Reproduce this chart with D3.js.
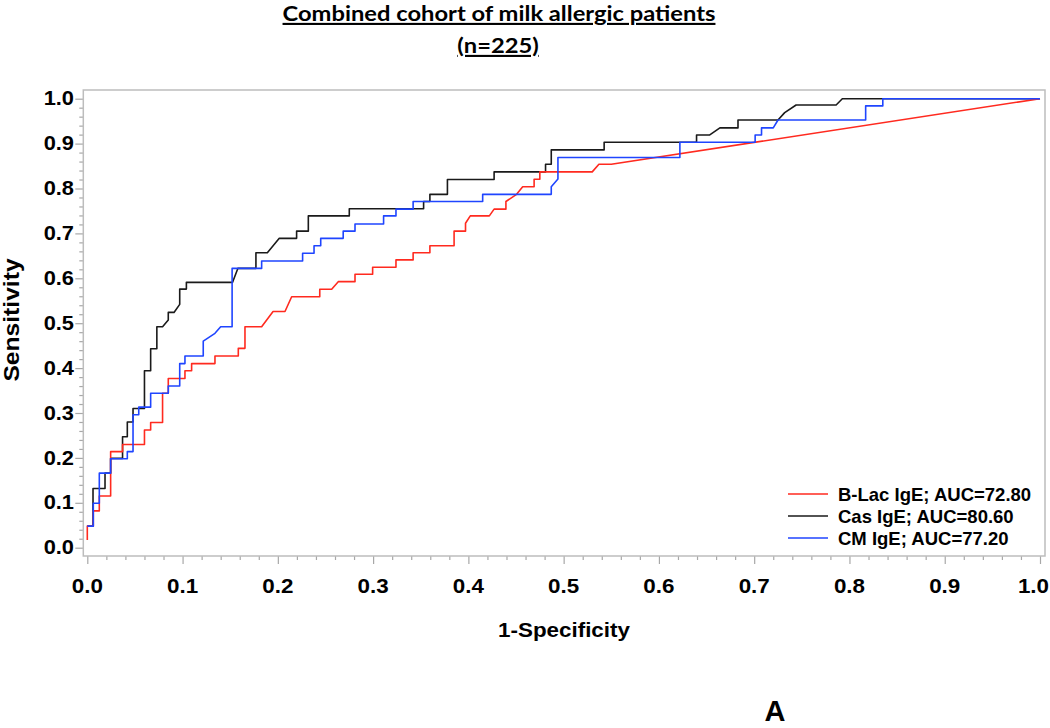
<!DOCTYPE html>
<meta charset="utf-8">
<style type="text/css">
    body { margin: 0; background: #fff; }
    svg text { font-family: "Liberation Sans", Arial, sans-serif; font-weight: bold; fill: #000; }
    .title { font-family: Lato, "Open Sans", sans-serif; text-decoration: underline; }
    .tick line { stroke: #a8a8a8; stroke-width: 1.2; }
</style>
<svg id="chart" width="1050" height="728"></svg>
<script src="https://cdn.jsdelivr.net/npm/d3@7/dist/d3.min.js" type="text/javascript"></script>
<script type="text/javascript">
    // ROC vertices: [1-specificity, sensitivity]
    var bLacPts = [[0,0.017],[0,0.048],[0.0063,0.048],[0.0063,0.082],[0.0126,0.082],[0.0126,0.115],[0.0245,0.115],
        [0.0245,0.214],[0.037,0.214],[0.037,0.23],[0.060,0.23],[0.060,0.262],[0.0665,0.262],[0.0665,0.279],
        [0.079,0.279],[0.079,0.344],[0.085,0.344],[0.085,0.377],[0.1025,0.377],[0.1025,0.394],[0.1095,0.394],
        [0.1095,0.41],[0.134,0.41],[0.134,0.427],[0.1585,0.427],[0.1585,0.444],[0.1655,0.444],[0.1655,0.492],
        [0.183,0.492],[0.195,0.526],[0.2075,0.526],[0.2145,0.559],[0.244,0.559],[0.244,0.5755],[0.2565,0.5755],
        [0.2634,0.5925],[0.281,0.5925],[0.281,0.609],[0.2995,0.609],[0.2995,0.6245],[0.324,0.6245],[0.324,0.641],
        [0.342,0.641],[0.342,0.657],[0.3596,0.657],[0.3596,0.6726],[0.385,0.6726],[0.385,0.705],[0.397,0.705],
        [0.397,0.7225],[0.402,0.739],[0.422,0.739],[0.427,0.754],[0.4394,0.754],[0.4394,0.771],[0.4506,0.787],
        [0.457,0.804],[0.469,0.804],[0.469,0.8205],[0.475,0.8205],[0.475,0.837],[0.530,0.837],[0.537,0.854],
        [0.55,0.854],[1,1]];

    var casPts = [[0,0.048],[0.006,0.048],[0.006,0.132],[0.0186,0.132],[0.0186,0.166],[0.0245,0.166],[0.0245,0.199],
        [0.037,0.199],[0.037,0.247],[0.042,0.247],[0.042,0.28],[0.048,0.28],[0.048,0.31],[0.060,0.31],[0.060,0.394],
        [0.0665,0.394],[0.0665,0.443],[0.073,0.443],[0.073,0.492],[0.079,0.492],[0.085,0.507],[0.085,0.524],
        [0.091,0.524],[0.097,0.542],[0.097,0.576],[0.104,0.576],[0.104,0.591],[0.1525,0.591],[0.158,0.622],
        [0.177,0.622],[0.177,0.657],[0.189,0.657],[0.2015,0.689],[0.2197,0.689],[0.2197,0.705],[0.232,0.705],
        [0.232,0.739],[0.275,0.739],[0.275,0.755],[0.353,0.755],[0.353,0.771],[0.3596,0.771],[0.3596,0.787],
        [0.378,0.787],[0.378,0.82],[0.427,0.82],[0.427,0.837],[0.481,0.837],[0.481,0.854],[0.487,0.854],
        [0.487,0.886],[0.5425,0.886],[0.5425,0.903],[0.6395,0.903],[0.6395,0.919],[0.653,0.919],[0.664,0.935],
        [0.683,0.935],[0.683,0.9525],[0.725,0.9525],[0.732,0.969],[0.744,0.986],[0.786,0.986],[0.7925,1.0],[1,1]];

    var cmPts = [[0,0.048],[0.0063,0.048],[0.0063,0.099],[0.0126,0.099],[0.0126,0.166],[0.0245,0.166],[0.0245,0.198],
        [0.042,0.198],[0.042,0.214],[0.048,0.214],[0.048,0.296],[0.054,0.296],[0.054,0.313],[0.0665,0.313],
        [0.0665,0.344],[0.085,0.344],[0.085,0.36],[0.097,0.36],[0.097,0.41],[0.1025,0.41],[0.1025,0.427],
        [0.1217,0.427],[0.1217,0.46],[0.134,0.4775],[0.14,0.492],[0.152,0.492],[0.152,0.622],[0.183,0.622],
        [0.183,0.6385],[0.226,0.6385],[0.226,0.6557],[0.238,0.6557],[0.238,0.6726],[0.245,0.6726],[0.245,0.689],
        [0.2686,0.689],[0.2686,0.705],[0.281,0.705],[0.281,0.721],[0.311,0.721],[0.311,0.739],[0.324,0.739],
        [0.324,0.754],[0.342,0.754],[0.342,0.771],[0.415,0.771],[0.415,0.787],[0.487,0.787],[0.487,0.804],
        [0.494,0.821],[0.494,0.869],[0.622,0.869],[0.622,0.903],[0.701,0.903],[0.701,0.919],[0.7077,0.919],
        [0.7077,0.935],[0.72,0.935],[0.725,0.9525],[0.817,0.9525],[0.817,0.984],[0.835,0.984],[0.835,1.0],[1,1]];

    var seriesNames = ["B-Lac IgE; AUC=72.80", "Cas IgE; AUC=80.60", "CM IgE; AUC=77.20"];
    var seriesColors = ["#ff2a1f", "#1a1a1a", "#1f45ff"];
    var tickValues = [0, 0.1, 0.2, 0.3, 0.4, 0.5, 0.6, 0.7, 0.8, 0.9, 1.0];
    var tickLabels = ["0.0", "0.1", "0.2", "0.3", "0.4", "0.5", "0.6", "0.7", "0.8", "0.9", "1.0"];

    var svg = d3.select("#chart");
    var x = d3.scaleLinear().domain([0, 1]).range([87.3, 1040]);
    var y = d3.scaleLinear().domain([0, 1]).range([547.7, 98.7]);
    var frame = { left: 83.3, right: 1045, top: 90, bottom: 556 };
    var stretch = 1.12;

    var minorTicks = d3.range(0, 51).map(i => i / 50).filter(v => Math.round(v * 50) % 5 != 0);

    // axes: ticks only, labels drawn separately
    function drawAxis(axis, tx, ty) {
        var g = svg.append("g").attr("transform", "translate(" + tx + "," + ty + ")").call(axis);
        g.select(".domain").remove();
        g.selectAll("text").remove();
    }
    drawAxis(d3.axisBottom(x).tickValues(tickValues).tickSize(8).tickFormat(""), 0, frame.bottom);
    drawAxis(d3.axisBottom(x).tickValues(minorTicks).tickSize(4).tickFormat(""), 0, frame.bottom);
    drawAxis(d3.axisLeft(y).tickValues(tickValues).tickSize(8).tickFormat(""), frame.left, 0);
    drawAxis(d3.axisLeft(y).tickValues(minorTicks).tickSize(4).tickFormat(""), frame.left, 0);

    svg.append("rect")
        .attr("x", frame.left).attr("y", frame.top)
        .attr("width", frame.right - frame.left).attr("height", frame.bottom - frame.top)
        .attr("fill", "none").attr("stroke", "#bdbdbd").attr("stroke-width", 1.5);

    function stretchedText(str, px, py, size, anchor, rot, sx) {
        var t = "translate(" + px + "," + py + ")" + (rot ? " rotate(" + rot + ")" : "") + " scale(" + (sx || stretch) + ",1)";
        return svg.append("text").attr("transform", t)
            .attr("text-anchor", anchor).style("font-size", size + "px").text(str);
    }

    tickValues.forEach((v, i) => {
        // last label sits on the window edge, keep it inside
        if (i == tickValues.length - 1) stretchedText(tickLabels[i], 1049, 593, 20, "end");
        else stretchedText(tickLabels[i], x(v), 593, 20, "middle");
        stretchedText(tickLabels[i], 74, y(v) + 6.6, 19.5, "end");
    });

    stretchedText("1-Specificity", 564, 637, 20, "middle");
    stretchedText("Sensitivity", 18.5, 320, 22, "middle", -90);

    // curves
    var line = d3.line().x(d => x(d[0])).y(d => y(d[1]));
    var curves = [casPts, bLacPts, cmPts];
    var curveColors = [seriesColors[1], seriesColors[0], seriesColors[2]];
    curves.forEach((pts, i) => {
        svg.append("path").datum(pts)
            .attr("d", line)
            .attr("fill", "none")
            .attr("stroke", curveColors[i])
            .attr("stroke-width", 1.6)
            .attr("stroke-linejoin", "round");
    });

    // legend
    var legendY = d3.scaleLinear().domain([0, 2]).range([494, 538]);
    seriesNames.forEach((name, i) => {
        svg.append("line")
            .attr("x1", 788).attr("x2", 828)
            .attr("y1", legendY(i)).attr("y2", legendY(i))
            .attr("stroke", seriesColors[i]).attr("stroke-width", 1.6);
        svg.append("text")
            .attr("x", 838).attr("y", legendY(i) + 6.6)
            .style("font-size", "18.5px")
            .text(name);
    });

    // title
    stretchedText("Combined cohort of milk allergic patients", 499, 21, 21, "middle", 0, 1.13).attr("class", "title");
    stretchedText("(n=225)", 498, 53, 21, "middle", 0, 1.13).attr("class", "title");

    svg.append("text")
        .attr("x", 775).attr("y", 721).attr("text-anchor", "middle")
        .style("font-size", "29px")
        .text("A");
</script>
